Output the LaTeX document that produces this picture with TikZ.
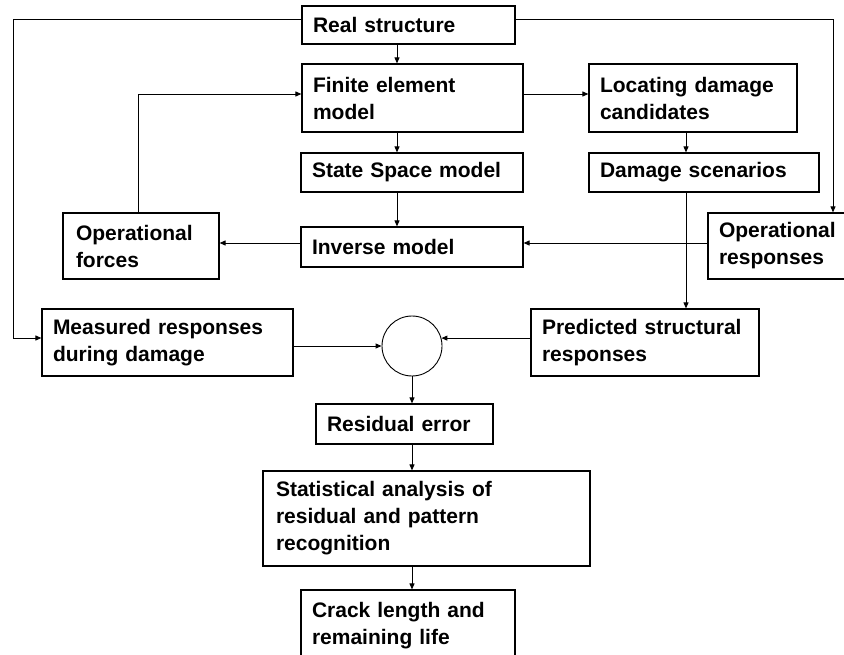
\documentclass[tikz,border=0pt]{standalone}
\usepackage{fontspec}
\setmainfont{Liberation Sans}
\usetikzlibrary{arrows.meta}
\begin{document}
\begin{tikzpicture}[x=1pt,y=-1pt,
  box/.style={draw, line width=1.2pt, align=left, inner xsep=11pt, inner ysep=0pt,
    font=\bfseries\fontsize{21}{27}\selectfont},
  link/.style={line width=0.9pt, -{Triangle[length=6pt,width=5pt]}}]
\useasboundingbox[fill=white] (0,0) rectangle (844,655);

% guide coordinates for the connector runs
\coordinate (vx) at (397,0);
\coordinate (cx) at (412,0);
\coordinate (dx) at (686,0);
\coordinate (ox) at (138,0);
\coordinate (lx) at (13,0);
\coordinate (rx) at (833,0);
\coordinate (ty) at (0,19.5);
\coordinate (hy) at (0,94);
\coordinate (iy) at (0,243);
\coordinate (my) at (0,338);

% blocks
\node[box, text width=191pt, minimum height=38pt] (real) at (408.5,25) {Real structure};
\node[box, text width=199pt, minimum height=68pt] (fe) at (412.5,98) {Finite element\\model};
\node[box, text width=186pt, minimum height=68pt] (loc) at (693,98) {Locating damage\\candidates};
\node[box, text width=200pt, minimum height=39pt] (ss) at (412,172.5) {State Space model};
\node[box, text width=208pt, minimum height=39pt] (ds) at (704,172.5) {Damage scenarios};
\node[box, inner xsep=13pt, text width=130pt, minimum height=66pt] (opf) at (141,246) {Operational\\forces};
\node[box, text width=200pt, minimum height=40pt] (inv) at (412,247) {Inverse model};
\node[box, text width=132pt, minimum height=66pt] (opr) at (785,246) {Operational\\responses};
\node[box, text width=229pt, minimum height=67pt] (meas) at (167.5,342.5) {Measured responses\\during damage};
\node[draw, circle, minimum size=60pt, inner sep=0pt, line width=0.9pt] (circ) at (412,346) {};
\node[box, text width=206pt, minimum height=67pt] (pred) at (645,342.5) {Predicted structural\\responses};
\node[box, text width=155pt, minimum height=40pt] (res) at (404.5,424) {Residual error};
\node[box, inner xsep=13pt, text width=301pt, minimum height=95pt] (stat) at (426.5,518.5) {Statistical analysis of\\residual and pattern\\recognition};
\node[box, text width=192pt, minimum height=72pt] (crack) at (408,626) {Crack length and\\remaining life};

% connectors
\draw[link] (real.south -| vx) -- (fe.north -| vx);
\draw[link] (fe.south -| vx) -- (ss.north -| vx);
\draw[link] (ss.south -| vx) -- (inv.north -| vx);
\draw[link] (fe.east |- hy) -- (loc.west |- hy);
\draw[link] (loc.south -| dx) -- (ds.north -| dx);
\draw[link] (ds.south -| dx) -- (pred.north -| dx);
\draw[link] (opf.north -| ox) |- (fe.west |- hy);
\draw[link] (inv.west |- iy) -- (opf.east |- iy);
\draw[link] (opr.west |- iy) -- (inv.east |- iy);
\draw[link] (real.west |- ty) -| (lx |- my) -- (meas.west |- my);
\draw[link] (real.east |- ty) -| (opr.north -| rx);
\draw[link] (meas.east |- circ.west) -- (circ.west);
\draw[link] (pred.west |- circ.15) -- (circ.15);
\draw[link] (circ.south) -- (res.north -| circ.south);
\draw[link] (res.south -| cx) -- (stat.north -| cx);
\draw[link] (stat.south -| cx) -- (crack.north -| cx);
\end{tikzpicture}
\end{document}
